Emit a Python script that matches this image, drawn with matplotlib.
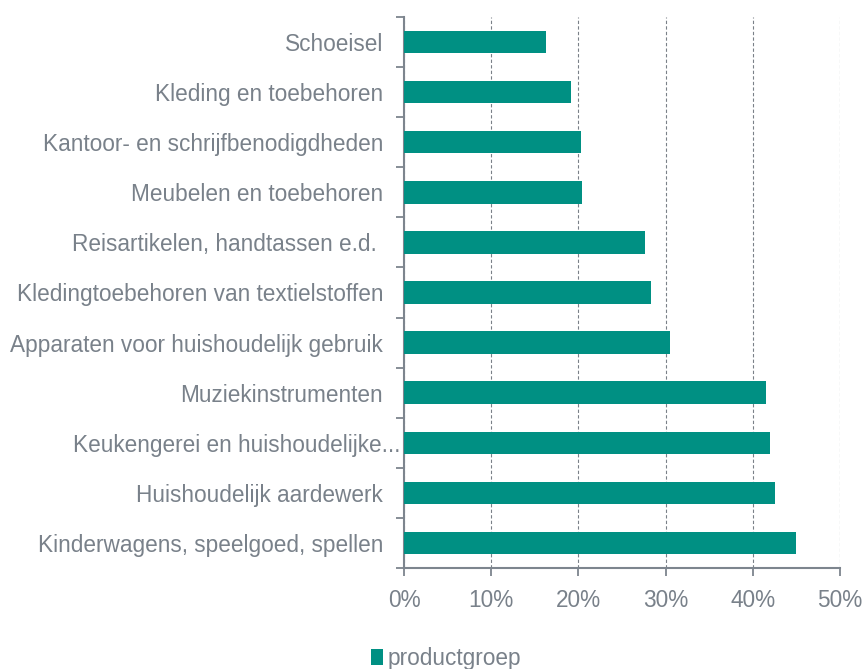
import matplotlib
matplotlib.use("Agg")
import matplotlib.pyplot as plt
from matplotlib.patches import Patch
from matplotlib.ticker import FuncFormatter
from matplotlib.transforms import ScaledTranslation

categories = [
    "Schoeisel",
    "Kleding en toebehoren",
    "Kantoor- en schrijfbenodigdheden",
    "Meubelen en toebehoren",
    "Reisartikelen, handtassen e.d. ",
    "Kledingtoebehoren van textielstoffen",
    "Apparaten voor huishoudelijk gebruik",
    "Muziekinstrumenten",
    "Keukengerei en huishoudelijke...",
    "Huishoudelijk aardewerk",
    "Kinderwagens, speelgoed, spellen",
]
values = [16.3, 19.1, 20.3, 20.4, 27.6, 28.3, 30.5, 41.5, 42.0, 42.6, 44.9]
xticks = [0, 10, 20, 30, 40, 50]
series_name = "productgroep"

bar_color = "#009083"
text_color = "#79818a"
axis_color = "#7d858e"
fs = 16.3

plt.rcParams['font.family'] = ['Liberation Sans', 'DejaVu Sans']

fig = plt.figure(figsize=(8.65, 6.69), dpi=100)
ax = fig.add_axes([404/865, 1-568/669, (840-404)/865, (568-17)/669])

y = list(range(len(categories)))
ax.barh(y, values, height=0.45, color=bar_color, zorder=3)
ax.set_ylim(len(categories)-0.5, -0.5)
ax.set_xlim(0, 50)

ax.set_yticks(y)
ax.set_yticklabels(categories, color=text_color, fontsize=fs)
ax.set_yticks([i - 0.5 for i in range(len(categories)+1)], minor=True)
ax.tick_params(axis='y', which='major', length=0, pad=15)
ax.tick_params(axis='y', which='minor', length=6, width=1.3, color=axis_color)

# the truncated label in the original overflows towards the axis
lbl = ax.get_yticklabels()[8]
lbl.set_transform(lbl.get_transform() + ScaledTranslation(17/100, 0, fig.dpi_scale_trans))

ax.set_xticks(xticks)
ax.xaxis.set_major_formatter(FuncFormatter(lambda v, p: f"{v:.0f}%"))
ax.tick_params(axis='x', length=6, width=1.3, color=axis_color, labelcolor=text_color,
               labelsize=fs, pad=9)

for s in ['top', 'right']:
    ax.spines[s].set_visible(False)
for s in ['left', 'bottom']:
    ax.spines[s].set_color(axis_color)
    ax.spines[s].set_linewidth(1.5)

ax.grid(axis='x', linestyle=(0, (3, 2)), color='#7a8088', linewidth=0.8, zorder=0)
ax.set_axisbelow(True)

handle = Patch(facecolor=bar_color, edgecolor='none')
fig.legend([handle], [series_name], loc='center', bbox_to_anchor=(446/865, 1-658/669),
           frameon=False, fontsize=fs, labelcolor=text_color,
           handlelength=0.55, handleheight=0.7, handletextpad=0.2)

fig.savefig("out.png", dpi=100, facecolor='white')
